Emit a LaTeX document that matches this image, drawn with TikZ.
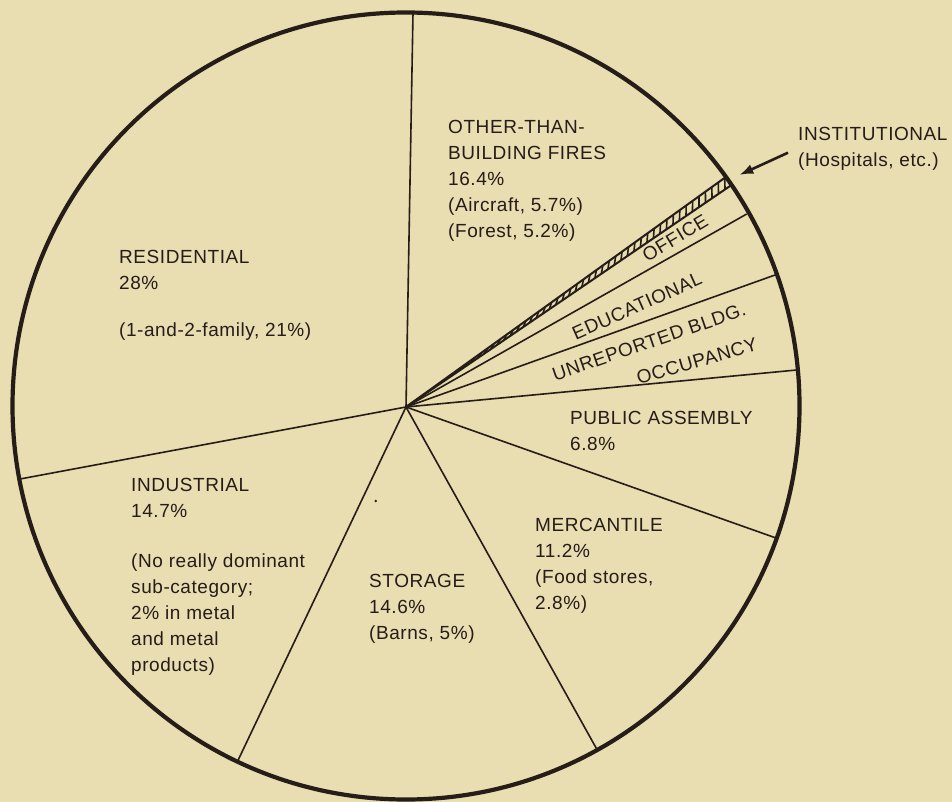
\documentclass[tikz,border=0pt]{standalone}
\usepackage{fontspec}
\setmainfont{Liberation Sans}[LetterSpace=3]
\usetikzlibrary{arrows.meta,calc}
\definecolor{paper}{RGB}{233,221,178}
\definecolor{ink}{RGB}{38,28,24}
\begin{document}
\begin{tikzpicture}[x=1pt,y=-1pt,
  lbl/.style={align=left, anchor=north west, inner sep=0pt, font=\fontsize{19}{26}\selectfont, text=ink},
  rlbl/.style={inner sep=0pt, font=\fontsize{19}{26}\selectfont, text=ink},
  spoke/.style={draw=ink, line width=1.6pt},
  bandedge/.style={draw=ink, line width=2pt},
  rim/.style={draw=ink, line width=4.2pt},
  hatch/.style={draw=ink, line width=1.6pt}]
\fill[paper] (0,0) rectangle (952,802);
\useasboundingbox (0,0) rectangle (952,802);

% hub and spoke ends
\coordinate (hub) at (406,407);
\coordinate (p1) at (413,13);
\coordinate (iu) at (726.5,176.5);
\coordinate (il) at (731.5,185);
\coordinate (p3) at (746.7,214);
\coordinate (p4) at (775,275);
\coordinate (p5) at (796.7,370);
\coordinate (p6) at (776,538);
\coordinate (p7) at (596.7,749);
\coordinate (p8) at (237.7,761);
\coordinate (p9) at (20,479);

% hatched institutional band
\begin{scope}
  \clip (hub) -- (iu) -- (il) -- cycle;
  \foreach \s [evaluate=\s as \t using \s+0.014] in {0.06,0.08,...,1.0}
    \draw[hatch] ($(hub)!\s!(il)$) -- ($(hub)!\t!(iu)$);
\end{scope}
\draw[bandedge] (hub) -- (iu);
\draw[bandedge] (hub) -- (il);

% spokes
\foreach \p in {p1,p3,p4,p5,p6,p7,p8,p9}
  \draw[spoke] (hub) -- (\p);

% rim
\draw[rim] (406,406) circle[radius=393.5pt];

% labels
\node[lbl] (oth) at (448,120) {OTHER-THAN-\\BUILDING FIRES\\16.4\%\\(Aircraft, 5.7\%)\\(Forest, 5.2\%)};
\node[lbl] (res) at (119,250.5) {RESIDENTIAL\\28\%\\[21pt](1-and-2-family, 21\%)};
\node[lbl] (ind) at (131,478) {INDUSTRIAL\\14.7\%\\[24pt](No really dominant\\sub-category;\\2\% in metal\\and metal\\products)};
\node[lbl] (sto) at (369,574) {STORAGE\\14.6\%\\(Barns, 5\%)};
\node[lbl] (mer) at (535,518) {MERCANTILE\\11.2\%\\(Food stores,\\2.8\%)};
\node[lbl] (pub) at (570,411) {PUBLIC ASSEMBLY\\6.8\%};
\node[lbl] (ins) at (798,127) {INSTITUTIONAL\\(Hospitals, etc.)};

\node[rlbl, rotate=31] (off) at (675,238) {OFFICE};
\node[rlbl, rotate=24] (edu) at (637,306) {EDUCATIONAL};
\node[rlbl, rotate=19] (unr) at (649,342) {UNREPORTED BLDG.};
\node[rlbl, rotate=16] (occ) at (697,361) {OCCUPANCY};

% arrow to institutional
\coordinate (atail) at (788,152.7);
\coordinate (atip) at (739.3,175);
\draw[ink, line width=2.6pt, -{Latex[length=14pt,width=10pt]}] (atail) -- (atip);

% speck
\fill[ink] (375.7,501) circle[radius=1.3pt];
\end{tikzpicture}
\end{document}
